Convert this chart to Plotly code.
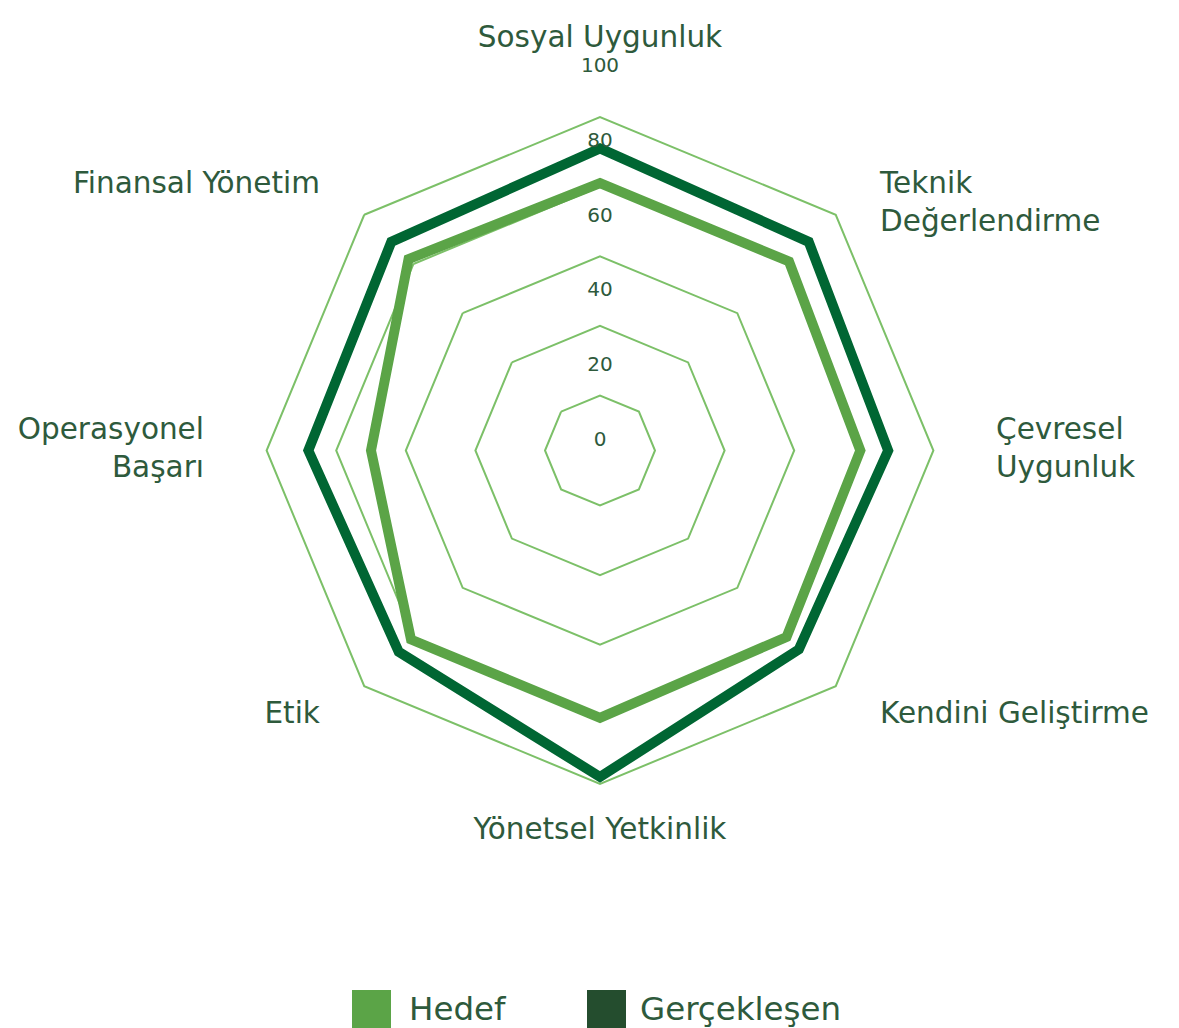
import plotly.graph_objects as go

# ---- data -----------------------------------------------------------------
categories = [
    "Sosyal Uygunluk", "Teknik Değerlendirme", "Çevresel Uygunluk",
    "Kendini Geliştirme", "Yönetsel Yetkinlik", "Etik",
    "Operasyonel Başarı", "Finansal Yönetim",
]
category_labels = [
    "Sosyal Uygunluk", "Teknik<br>Değerlendirme", "Çevresel<br>Uygunluk",
    "Kendini Geliştirme", "Yönetsel Yetkinlik", "Etik",
    "Operasyonel<br>Başarı", "Finansal Yönetim",
]
hedef = [61, 61, 59, 60, 61, 61, 50, 62]
gerceklesen = [71, 69, 67, 65, 78, 66, 68, 69]
grid_ticks = [0, 20, 40, 60, 80]
tick_values = [0, 20, 40, 60, 80, 100]
tick_text = ["0", "20", "40", "60", "80", "100"]
series_names = ["Hedef", "Gerçekleşen"]

# ---- styling --------------------------------------------------------------
W, H = 1179, 1028
FONT = "DejaVu Sans"
TEXT_COLOR = "#2e5a3c"
GRID_COLOR = "#7cc068"
HEDEF_COLOR = "#5ba447"
GERC_COLOR = "#006633"
GERC_SWATCH = "#244d2e"

CX, CY = 600, 450.5          # chart centre (px)
R_OUT = 403                   # radius of value 100 (px)
PX0 = 55                      # radius of value 0 (px)
R_MIN = -1
unit = (R_OUT - PX0) / 100.0
hole = (PX0 + R_MIN * unit) / R_OUT

LABEL_R = 98                  # radial position of the category names
label_positions = ["top center", "bottom right", "middle right", "top right",
                   "top center", "top left", "middle left", "bottom left"]

# scale for the radial value labels
CY2, R2 = 441, 374


def closed(values, cats):
    # repeat the first two points so the outline joins cleanly at the start
    return values + values[:2], cats + cats[:2]


fig = go.Figure()

for name, vals, col in [(series_names[0], hedef, HEDEF_COLOR),
                        (series_names[1], gerceklesen, GERC_COLOR)]:
    r, th = closed(vals, categories)
    fig.add_trace(go.Scatterpolar(
        r=r, theta=th, mode="lines", name=name,
        line=dict(color=col, width=10), showlegend=False,
        hoverinfo="skip",
    ))

fig.add_trace(go.Scatterpolar(
    r=[LABEL_R] * len(categories), theta=categories, mode="text",
    text=category_labels, textposition=label_positions,
    textfont=dict(family=FONT, size=29.5, color=TEXT_COLOR),
    cliponaxis=False, showlegend=False, hoverinfo="skip",
))

fig.add_trace(go.Scatterpolar(
    r=tick_values, theta=[90] * len(tick_values), mode="text",
    text=tick_text, textposition="middle center",
    textfont=dict(family=FONT, size=20, color=TEXT_COLOR),
    cliponaxis=False, showlegend=False, hoverinfo="skip",
    subplot="polar2",
))

fig.update_layout(
    width=W, height=H,
    margin=dict(l=0, r=0, t=0, b=0),
    paper_bgcolor="white",
    showlegend=False,
    polar=dict(
        domain=dict(x=[(CX - R_OUT) / W, (CX + R_OUT) / W],
                    y=[(H - CY - R_OUT) / H, (H - CY + R_OUT) / H]),
        hole=hole,
        bgcolor="rgba(0,0,0,0)",
        gridshape="linear",
        radialaxis=dict(range=[R_MIN, 100], tickvals=grid_ticks,
                        showticklabels=False, ticks="", showline=False,
                        gridcolor=GRID_COLOR, gridwidth=2),
        angularaxis=dict(type="category", categoryorder="array",
                         categoryarray=categories, rotation=90,
                         direction="clockwise", showgrid=False,
                         showline=False, showticklabels=False, ticks=""),
    ),
    polar2=dict(
        domain=dict(x=[(CX - R2) / W, (CX + R2) / W],
                    y=[(H - CY2 - R2) / H, (H - CY2 + R2) / H]),
        bgcolor="rgba(0,0,0,0)",
        radialaxis=dict(range=[0, 100], visible=False),
        angularaxis=dict(visible=False),
    ),
)

# legend: square swatches with their names
legend_items = [(series_names[0], HEDEF_COLOR, 352, 407),
                (series_names[1], GERC_SWATCH, 587, 638)]
for name, col, sx, tx in legend_items:
    fig.add_shape(type="rect", xref="paper", yref="paper",
                  x0=sx / W, x1=(sx + 39) / W,
                  y0=-0.01, y1=1 - 990 / H,
                  fillcolor=col, line=dict(width=0))
    fig.add_annotation(text=name, xref="paper", yref="paper",
                       x=tx / W, y=1 - 1009 / H, xanchor="left",
                       yanchor="middle", showarrow=False,
                       font=dict(family=FONT, size=32.5, color=TEXT_COLOR))

fig.write_html("out.html", config={"displayModeBar": False})
